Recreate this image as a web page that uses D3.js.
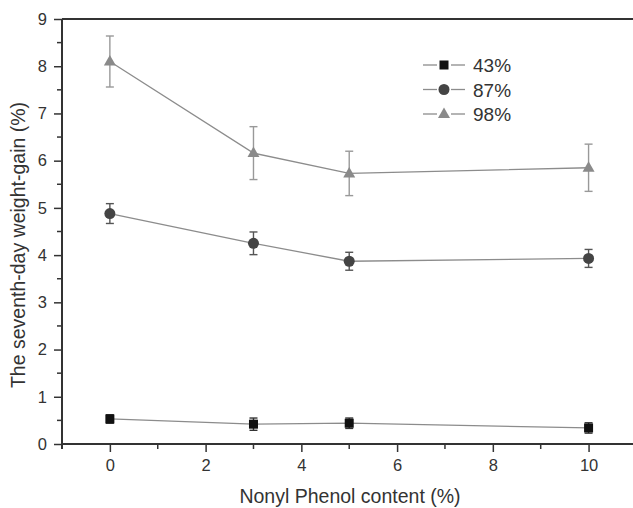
<!DOCTYPE html>
<html>
<head>
<meta charset="utf-8">
<script src="https://cdn.jsdelivr.net/npm/d3@7"></script>
<style>
  body { margin: 0; background: #fff; }
  svg { display: block; font-family: "Liberation Sans", Arial, sans-serif; }
</style>
</head>
<body>
<div id="chart"></div>
<script>
// Nonyl phenol content (%) on x
var npContent = [0, 3, 5, 10];
var seriesNames = ["43%", "87%", "98%"];

// Seventh-day weight gain (%) and its error for each series
var gain43 = [0.53, 0.42, 0.44, 0.34];
var err43  = [0.09, 0.13, 0.11, 0.11];
var gain87 = [4.88, 4.25, 3.87, 3.93];
var err87  = [0.21, 0.24, 0.19, 0.19];
var gain98 = [8.10, 6.16, 5.73, 5.85];
var err98  = [0.54, 0.56, 0.47, 0.50];

var xTicks = [0, 2, 4, 6, 8, 10];
var yTicks = [0, 1, 2, 3, 4, 5, 6, 7, 8, 9];

var W = 633, H = 508;
var plotLeft = 62, plotTop = 19, plotBottom = 444;

var x = d3.scaleLinear().domain([-1, 11]).range([plotLeft, plotLeft + 12 * 47.87]);
var y = d3.scaleLinear().domain([0, 9]).range([plotBottom, plotTop]);

var svg = d3.select("#chart").append("svg")
  .attr("width", W).attr("height", H);

var styles = [
  { name: seriesNames[0], vals: gain43, errs: err43, color: "#111", bar: "#333", shape: "square" },
  { name: seriesNames[1], vals: gain87, errs: err87, color: "#444", bar: "#555", shape: "circle" },
  { name: seriesNames[2], vals: gain98, errs: err98, color: "#8a8a8a", bar: "#999", shape: "triangle" }
];

function marker(g, shape, color) {
  if (shape === "square") {
    g.append("rect").attr("x", -4.5).attr("y", -4.5).attr("width", 9).attr("height", 9).attr("fill", color);
  } else if (shape === "circle") {
    g.append("circle").attr("r", 5.5).attr("fill", color);
  } else {
    g.append("path").attr("d", "M0,-6.5L6,4L-6,4Z").attr("fill", color);
  }
}

// Series lines, error bars, markers
var line = d3.line().x(function(d) { return x(d[0]); }).y(function(d) { return y(d[1]); });

styles.forEach(function(s) {
  var pts = npContent.map(function(c, i) { return [c, s.vals[i], s.errs[i]]; });

  svg.append("path")
    .attr("d", line(pts))
    .attr("fill", "none")
    .attr("stroke", "#8c8c8c")
    .attr("stroke-width", 1.3);

  var eb = svg.append("g").attr("stroke", s.bar).attr("stroke-width", 1.4);
  pts.forEach(function(p) {
    var cx = x(p[0]), y1 = y(p[1] + p[2]), y2 = y(p[1] - p[2]);
    eb.append("line").attr("x1", cx).attr("x2", cx).attr("y1", y1).attr("y2", y2);
    eb.append("line").attr("x1", cx - 4).attr("x2", cx + 4).attr("y1", y1).attr("y2", y1);
    eb.append("line").attr("x1", cx - 4).attr("x2", cx + 4).attr("y1", y2).attr("y2", y2);
  });

  pts.forEach(function(p) {
    var g = svg.append("g").attr("transform", "translate(" + x(p[0]) + "," + y(p[1]) + ")");
    marker(g, s.shape, s.color);
  });
});

// Axes
var axisColor = "#333";
var xAxis = svg.append("g").attr("transform", "translate(0," + plotBottom + ")");
xAxis.call(d3.axisBottom(x).tickValues(xTicks).tickSize(8).tickPadding(7).tickFormat(d3.format("d")));
xAxis.select(".domain").remove();

var yAxis = svg.append("g").attr("transform", "translate(" + plotLeft + ",0)");
yAxis.call(d3.axisLeft(y).tickValues(yTicks).tickSize(8).tickPadding(7).tickFormat(d3.format("d")));
yAxis.select(".domain").remove();

[xAxis, yAxis].forEach(function(a) {
  a.selectAll(".tick line").attr("stroke", axisColor).attr("stroke-width", 1.5);
  a.selectAll(".tick text")
    .attr("fill", "#333")
    .style("font-size", "16.5px")
    .style("font-family", "'Liberation Sans', Arial, sans-serif");
});

// minor ticks
svg.append("g").selectAll("line")
  .data(d3.range(-1, 11, 2))
  .join("line")
  .attr("x1", function(d) { return x(d); }).attr("x2", function(d) { return x(d); })
  .attr("y1", plotBottom).attr("y2", plotBottom + 5)
  .attr("stroke", axisColor).attr("stroke-width", 1.5);
svg.append("g").selectAll("line")
  .data(d3.range(0.5, 9, 1))
  .join("line")
  .attr("y1", function(d) { return y(d); }).attr("y2", function(d) { return y(d); })
  .attr("x1", plotLeft - 5).attr("x2", plotLeft)
  .attr("stroke", axisColor).attr("stroke-width", 1.5);

// frame lines (left, bottom, top)
svg.append("line").attr("x1", plotLeft).attr("x2", W).attr("y1", plotBottom).attr("y2", plotBottom)
  .attr("stroke", axisColor).attr("stroke-width", 2);
svg.append("line").attr("x1", plotLeft).attr("x2", W).attr("y1", plotTop).attr("y2", plotTop)
  .attr("stroke", axisColor).attr("stroke-width", 2);
svg.append("line").attr("x1", plotLeft).attr("x2", plotLeft).attr("y1", plotTop).attr("y2", plotBottom + 5)
  .attr("stroke", axisColor).attr("stroke-width", 2);

// Axis titles
svg.append("text")
  .attr("x", 350).attr("y", 503)
  .attr("text-anchor", "middle")
  .attr("font-size", 19.5).attr("fill", "#333")
  .text("Nonyl Phenol content (%)");
svg.append("text")
  .attr("transform", "translate(25,245) rotate(-90)")
  .attr("text-anchor", "middle")
  .attr("font-size", 19.5).attr("fill", "#333")
  .text("The seventh-day weight-gain (%)");

// Legend
var legend = svg.append("g");
styles.forEach(function(s, i) {
  var ly = 65 + i * 24.5;
  var g = legend.append("g").attr("transform", "translate(0," + ly + ")");
  g.append("line").attr("x1", 423).attr("x2", 437).attr("y1", 0).attr("y2", 0).attr("stroke", "#8c8c8c").attr("stroke-width", 1.3);
  g.append("line").attr("x1", 451).attr("x2", 465).attr("y1", 0).attr("y2", 0).attr("stroke", "#8c8c8c").attr("stroke-width", 1.3);
  var m = g.append("g").attr("transform", "translate(444,0)");
  marker(m, s.shape, s.color);
  g.append("text").attr("x", 473).attr("y", 7)
    .attr("font-size", 19).attr("fill", "#333")
    .text(s.name);
});
</script>
</body>
</html>
